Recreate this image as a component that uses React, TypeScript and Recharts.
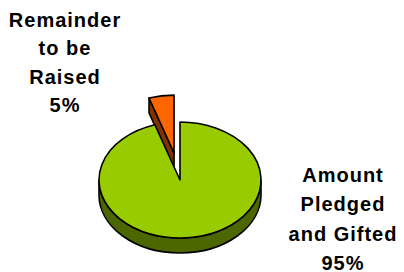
import { PieChart, Pie, Cell, Tooltip } from 'recharts';

// Fundraising split
const CATEGORIES = ['Remainder to be Raised', 'Amount Pledged and Gifted'];
const SHARES = [5, 95];
const LABEL_LINES = [
  ['Remainder', 'to be', 'Raised'],
  ['Amount', 'Pledged', 'and Gifted'],
];

const TOP_COLORS = ['#FF6600', '#99CC00'];
const SIDE_COLORS = ['#803300', '#4C6600'];

// 3D look: vertical squash of the disc, wall height, and slice explosion
const TILT = 58 / 81;
const DEPTH = 15;
const EXPLODE = [38, 0];
const RAD = Math.PI / 180;

const LABEL_ANCHORS = [
  { x: 65, y: 26.5, gap: 28.5 },
  { x: 343, y: 182, gap: 29.3 },
];

const chartData = CATEGORIES.map((name, i) => ({ name, value: SHARES[i], idx: i }));

// eslint-disable-next-line @typescript-eslint/no-explicit-any
function Slice3D(props: any) {
  const { cx, cy, outerRadius: r, startAngle, endAngle } = props;
  const idx = props.payload?.idx ?? props.idx ?? 0;
  const lo = Math.min(startAngle, endAngle);
  const hi = Math.max(startAngle, endAngle);
  const mid = ((lo + hi) / 2) * RAD;
  const off = EXPLODE[idx];
  const ry = r * TILT;
  const ox = cx + off * Math.cos(mid);
  const oy = cy - off * Math.sin(mid) * TILT;
  const pt = (deg: number, dz: number) =>
    `${ox + r * Math.cos(deg * RAD)},${oy - ry * Math.sin(deg * RAD) + dz}`;
  const big = (a: number, b: number) => (b - a > 180 ? 1 : 0);

  const sides: string[] = [];
  // curved outer wall, only the front half is visible
  for (let n = -2; n <= 1; n++) {
    const a0 = Math.max(lo, 180 + 360 * n);
    const a1 = Math.min(hi, 360 + 360 * n);
    if (a1 > a0) {
      sides.push(
        `M${pt(a0, 0)} A${r},${ry} 0 ${big(a0, a1)} 0 ${pt(a1, 0)} L${pt(a1, DEPTH)} A${r},${ry} 0 ${big(a0, a1)} 1 ${pt(a0, DEPTH)} Z`
      );
    }
  }
  // radial cut faces that turn toward the viewer
  const face = (a: number) =>
    `M${ox},${oy} L${pt(a, 0)} L${pt(a, DEPTH)} L${ox},${oy + DEPTH} Z`;
  if (Math.cos(lo * RAD) > 0.01) sides.push(face(lo));
  if (Math.cos(hi * RAD) < -0.01) sides.push(face(hi));

  const top = `M${ox},${oy} L${pt(lo, 0)} A${r},${ry} 0 ${big(lo, hi)} 0 ${pt(hi, 0)} Z`;

  return (
    <g>
      {sides.map((d, i) => (
        <path key={i} d={d} fill={SIDE_COLORS[idx]} stroke="#000" strokeWidth={1.6} strokeLinejoin="round" />
      ))}
      <path d={top} fill={TOP_COLORS[idx]} stroke="#000" strokeWidth={1.6} strokeLinejoin="round" />
    </g>
  );
}

// eslint-disable-next-line @typescript-eslint/no-explicit-any
function SliceLabel(props: any) {
  const idx = props.payload?.idx ?? props.index ?? 0;
  const pos = LABEL_ANCHORS[idx];
  const lines = [...LABEL_LINES[idx], `${Math.round(props.percent * 100)}%`];
  return (
    <text
      x={pos.x}
      y={pos.y}
      textAnchor="middle"
      fill="#000"
      fontFamily="'Liberation Sans', Arial, sans-serif"
      fontWeight="bold"
      fontSize={20}
      letterSpacing={1}
    >
      {lines.map((line, i) => (
        <tspan key={i} x={pos.x} y={pos.y + i * pos.gap}>
          {line}
        </tspan>
      ))}
    </text>
  );
}

export default function App() {
  return (
    <div style={{ position: 'absolute', left: 0, top: 0, width: 404, height: 272, background: '#fff' }}>
      <PieChart width={404} height={272} margin={{ top: 0, right: 0, bottom: 0, left: 0 }}>
        <Tooltip defaultIndex={0} content={() => null} cursor={false} />
        <Pie
          data={chartData}
          dataKey="value"
          nameKey="name"
          cx={180}
          cy={180}
          outerRadius={81}
          startAngle={108}
          endAngle={-252}
          stroke="none"
          shape={Slice3D}
          activeShape={Slice3D}
          inactiveShape={Slice3D}
          label={SliceLabel}
          labelLine={false}
          isAnimationActive={false}
        >
          {chartData.map((d, i) => (
            <Cell key={d.name} fill={TOP_COLORS[i]} />
          ))}
        </Pie>
      </PieChart>
    </div>
  );
}
